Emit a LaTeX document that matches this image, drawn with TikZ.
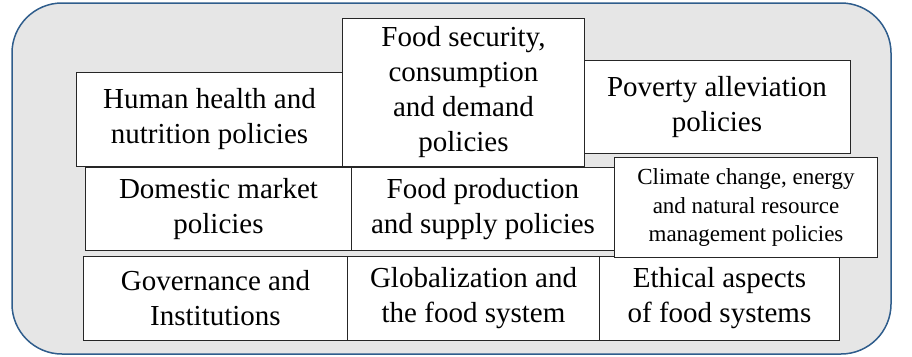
\documentclass[tikz,border=0pt]{standalone}
\usepackage{fontspec}
\setmainfont{Liberation Serif}
\newfontfamily\boxfont{Liberation Serif}
\usepackage{tikz}
\definecolor{panelgray}{HTML}{E6E6E6}
\definecolor{panelblue}{HTML}{2F5D8C}
\tikzset{pbox/.style={draw=black!85,fill=white,line width=1pt,anchor=north west,align=center,inner sep=0pt,font=\boxfont\fontsize{29}{35}\selectfont}}
\tikzset{sbox/.style={pbox,font=\boxfont\fontsize{23}{28.5}\selectfont}}
\begin{document}
\begin{tikzpicture}[x=1pt,y=-1pt]
\useasboundingbox (0,0) rectangle (912,356);
% outer panel
\draw[fill=panelgray,draw=panelblue,line width=1.5pt,rounded corners=50pt] (12,3) rectangle (891,354);
% top row
\node[pbox,minimum width=267pt,minimum height=93pt] (pov) at (583,60) {Poverty alleviation\\policies};
\node[pbox,minimum width=266pt,minimum height=94pt] (hh) at (76,72) {Human health and\\nutrition policies};
\node[pbox,minimum width=242pt,minimum height=148pt] (fs) at (342,18) {Food security,\\consumption\\and demand\\policies};
% middle row
\node[pbox,minimum width=266pt,minimum height=83pt] (dom) at (85,167) {Domestic market\\policies};
\node[pbox,minimum width=263pt,minimum height=83pt] (prod) at (351,167) {Food production\\and supply policies};
% bottom row
\node[pbox,minimum width=264pt,minimum height=84pt] (gov) at (83,256) {Governance and\\Institutions};
\node[pbox,minimum width=252pt,minimum height=84pt] (glob) at (347,256) {Globalization and\\the food system};
\node[pbox,minimum width=240pt,minimum height=84pt] (eth) at (599,256) {Ethical aspects\\of food systems};
\node[sbox,minimum width=263pt,minimum height=100pt] (clim) at (614,157) {Climate change, energy\\and natural resource\\management policies};
\end{tikzpicture}
\end{document}
